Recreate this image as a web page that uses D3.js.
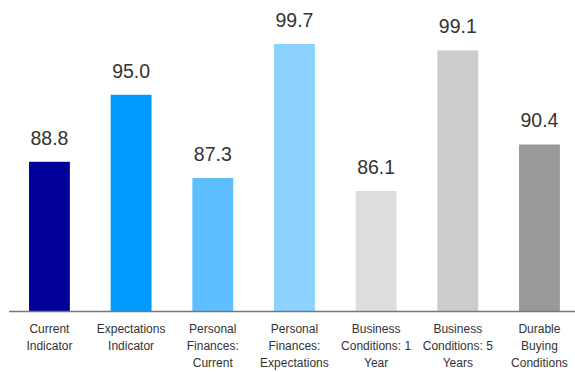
<!DOCTYPE html>
<html>
<head>
<meta charset="utf-8">
<script src="https://cdn.jsdelivr.net/npm/d3@7"></script>
<style>
  html, body { margin: 0; padding: 0; background: #fff; }
  svg { display: block; }
</style>
</head>
<body>
<svg id="chart" width="575" height="372"></svg>
<script>
// Index components (each category label split into its wrapped lines)
const categories = [
  ["Current", "Indicator"],
  ["Expectations", "Indicator"],
  ["Personal", "Finances:", "Current"],
  ["Personal", "Finances:", "Expectations"],
  ["Business", "Conditions: 1", "Year"],
  ["Business", "Conditions: 5", "Years"],
  ["Durable", "Buying", "Conditions"]
];
const values = [88.8, 95.0, 87.3, 99.7, 86.1, 99.1, 90.4];
const colors = ["#000099", "#0099ff", "#5ebeff", "#8cd2ff", "#dddddd", "#cccccc", "#999999"];
const yDomain = [75, 100];

const svg = d3.select("#chart");
const keys = categories.map(c => c.join(" "));

const x = d3.scaleBand()
  .domain(keys)
  .range([8.6, 580.3])
  .paddingInner(0.5)
  .paddingOuter(0.25);

const y = d3.scaleLinear()
  .domain(yDomain)
  .range([311, 40.7]);

const data = keys.map((k, i) => ({ key: k, lines: categories[i], value: values[i], color: colors[i] }));

// Bars
svg.append("g")
  .selectAll("rect")
  .data(data)
  .join("rect")
  .attr("x", d => x(d.key))
  .attr("y", d => y(d.value))
  .attr("width", x.bandwidth())
  .attr("height", d => y(yDomain[0]) - y(d.value))
  .attr("fill", d => d.color);

// Value labels above bars
svg.append("g")
  .selectAll("text")
  .data(data)
  .join("text")
  .attr("x", d => x(d.key) + x.bandwidth() / 2)
  .attr("y", d => y(d.value) - 17)
  .attr("text-anchor", "middle")
  .attr("font-family", "'Liberation Sans', Arial, sans-serif")
  .attr("font-size", 19.5)
  .attr("fill", "#333")
  .text(d => d.value.toFixed(1));

// Category axis
const axis = svg.append("g")
  .attr("transform", `translate(0,${y(yDomain[0])})`)
  .call(d3.axisBottom(x).tickSize(0).tickFormat(""));
axis.select(".domain").attr("stroke", "#777").attr("stroke-width", 1.5);

const labels = svg.append("g")
  .selectAll("text")
  .data(data)
  .join("text")
  .attr("x", d => x(d.key) + x.bandwidth() / 2)
  .attr("y", 333)
  .attr("text-anchor", "middle")
  .attr("font-family", "'Liberation Sans', Arial, sans-serif")
  .attr("font-size", 12)
  .attr("fill", "#333");

labels.selectAll("tspan")
  .data(d => d.lines.map(l => ({ text: l, x: x(d.key) + x.bandwidth() / 2 })))
  .join("tspan")
  .attr("x", t => t.x)
  .attr("dy", (t, i) => i === 0 ? 0 : 16.8)
  .text(t => t.text);
</script>
</body>
</html>
